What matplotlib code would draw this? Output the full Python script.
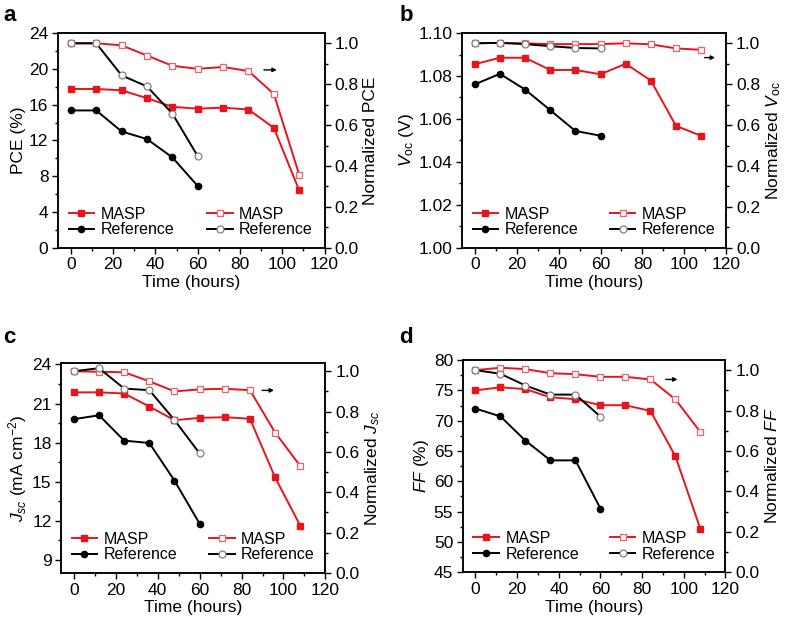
import numpy as np
import matplotlib.pyplot as plt
from matplotlib.ticker import MultipleLocator

plt.rcParams['font.family'] = ['Liberation Sans', 'DejaVu Sans']
plt.rcParams['mathtext.fontset'] = 'custom'
plt.rcParams['mathtext.rm'] = 'Liberation Sans'
plt.rcParams['mathtext.it'] = 'Liberation Sans:italic'

# time axis (hours)
t_masp = [0, 12, 24, 36, 48, 60, 72, 84, 96, 108]
t_ref = [0, 12, 24, 36, 48, 60]

# a: PCE
pce_masp = [17.75, 17.75, 17.6, 16.72, 15.75, 15.55, 15.66, 15.45, 13.4, 6.4]
pce_ref = [15.35, 15.35, 13.0, 12.15, 10.1, 6.9]
pce_masp_n = [1.0, 1.0, 0.99, 0.94, 0.89, 0.875, 0.884, 0.864, 0.752, 0.357]
pce_ref_n = [1.0, 1.0, 0.843, 0.789, 0.656, 0.448]

# b: Voc
voc_masp = [1.0855, 1.0885, 1.0885, 1.0828, 1.0828, 1.0808, 1.0857, 1.0779, 1.0568, 1.0521]
voc_ref = [1.0761, 1.0810, 1.0737, 1.0641, 1.0544, 1.0522]
voc_masp_n = [1.0, 1.002, 1.0, 0.996, 0.996, 0.996, 1.0, 0.995, 0.975, 0.968]
voc_ref_n = [1.0, 1.002, 0.996, 0.986, 0.977, 0.975]

# c: Jsc
jsc_masp = [21.86, 21.86, 21.77, 20.77, 19.72, 19.9, 19.95, 19.83, 15.33, 11.62]
jsc_ref = [19.8, 20.1, 18.15, 17.97, 15.08, 11.77]
jsc_masp_n = [1.0, 0.997, 0.995, 0.95, 0.9, 0.91, 0.913, 0.906, 0.696, 0.53]
jsc_ref_n = [1.0, 1.015, 0.914, 0.906, 0.758, 0.592]

# d: FF
ff_masp = [75.0, 75.5, 75.2, 73.85, 73.55, 72.55, 72.55, 71.6, 64.1, 52.1]
ff_ref = [72.0, 70.7, 66.7, 63.45, 63.45, 55.5]
ff_masp_n = [1.0, 1.012, 1.005, 0.985, 0.98, 0.967, 0.967, 0.954, 0.855, 0.693]
ff_ref_n = [1.0, 0.982, 0.924, 0.879, 0.879, 0.77]

red = '#e8141c'
fs = 12.5
lfs = 11.5


def style_axis(ax):
    ax.tick_params(which='both', direction='out', labelsize=fs, width=1.0, pad=2.5)
    ax.tick_params(which='major', length=4.5)
    ax.tick_params(which='minor', length=2.5)
    for s in ax.spines.values():
        s.set_linewidth(1.1)


def panel(rect, letter, letter_pos, y_abs, y_ref, n_abs, n_ref, ylim, ymaj, ymin, ylabel, nlabel,
          arrow_x, arrow_y, rtop=1.05):
    ax = fig.add_axes(rect)
    ax2 = ax.twinx()
    l1, = ax.plot(t_masp, y_abs, '-s', color=red, ms=4.5, lw=1.4, label='MASP')
    l2, = ax.plot(t_ref, y_ref, '-o', color='black', ms=4.5, lw=1.4, label='Reference')
    l3, = ax2.plot(t_masp, n_abs, '-s', color=red, mfc='white', mec='#f06068', ms=5, mew=0.9,
                   lw=1.4, label='MASP')
    l4, = ax2.plot(t_ref, n_ref, '-o', color='black', mfc='white', mec='#808080', ms=5, mew=0.9,
                   lw=1.4, label='Reference')
    ax.set_xlim(-6, 120)
    ax.set_ylim(*ylim)
    ax2.set_ylim(0, rtop)
    ax.xaxis.set_major_locator(MultipleLocator(20))
    ax.xaxis.set_minor_locator(MultipleLocator(10))
    ax.yaxis.set_major_locator(MultipleLocator(ymaj))
    ax.yaxis.set_minor_locator(MultipleLocator(ymin))
    ax2.yaxis.set_major_locator(MultipleLocator(0.2))
    ax2.yaxis.set_minor_locator(MultipleLocator(0.1))
    ax2.yaxis.set_major_formatter(plt.FormatStrFormatter('%.1f'))
    style_axis(ax)
    style_axis(ax2)
    ax.set_xlabel('Time (hours)', fontsize=fs, labelpad=2)
    ax.set_ylabel(ylabel, fontsize=fs, labelpad=2)
    ax2.set_ylabel(nlabel, fontsize=fs, labelpad=3)
    leg1 = ax2.legend([l1, l2], ['MASP', 'Reference'], loc='lower left', bbox_to_anchor=(0.0, 0.0),
                      frameon=False, fontsize=lfs, handlelength=1.6, handletextpad=0.4,
                      labelspacing=0.05, borderaxespad=0.25)
    ax2.add_artist(leg1)
    ax2.legend([l3, l4], ['MASP', 'Reference'], loc='lower left', bbox_to_anchor=(0.52, 0.0),
               frameon=False, fontsize=lfs, handlelength=1.6, handletextpad=0.4,
               labelspacing=0.05, borderaxespad=0.25)
    ax2.annotate('', xy=(arrow_x[1], arrow_y), xytext=(arrow_x[0], arrow_y),
                 arrowprops=dict(arrowstyle='-|>', color='black', lw=1.0, mutation_scale=6))
    fig.text(letter_pos[0], letter_pos[1], letter, fontsize=16, fontweight='bold')
    return ax


fig = plt.figure(figsize=(7.86, 6.24), dpi=100)

panel([0.074, 0.603, 0.339, 0.344], 'a', (0.004, 0.966), pce_masp, pce_ref, pce_masp_n, pce_ref_n,
      (0, 24), 4, 2, 'PCE (%)', 'Normalized PCE', (90, 98.7), 0.87)
panel([0.588, 0.603, 0.336, 0.344], 'b', (0.508, 0.966), voc_masp, voc_ref, voc_masp_n, voc_ref_n,
      (1.0, 1.1), 0.02, 0.01, r'$V_{\mathrm{oc}}$ (V)', r'Normalized $V_{\mathrm{oc}}$',
      (108.3, 116), 0.93)
panel([0.078, 0.082, 0.336, 0.336], 'c', (0.004, 0.45), jsc_masp, jsc_ref, jsc_masp_n, jsc_ref_n,
      (8, 24.1), 3, 1.5, r'$J_{sc}$ (mA cm$^{-2}$)', r'Normalized $J_{sc}$',
      (88.5, 96.8), 0.905, rtop=1.04)
panel([0.589, 0.083, 0.334, 0.340], 'd', (0.508, 0.45), ff_masp, ff_ref, ff_masp_n, ff_ref_n,
      (45, 80), 5, 2.5, r'$FF$ (%)', r'Normalized $FF$', (90, 98.3), 0.954)

fig.savefig('out.png', dpi=100)
